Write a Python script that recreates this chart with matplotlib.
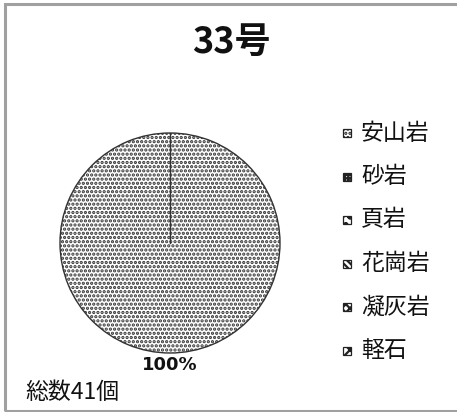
import matplotlib
matplotlib.use("Agg")
import numpy as np
import matplotlib.pyplot as plt
from matplotlib.patches import Rectangle

plt.rcParams['font.family'] = ['Noto Sans CJK JP', 'DejaVu Sans']
plt.rcParams['hatch.color'] = '#3a3a3a'
plt.rcParams['hatch.linewidth'] = 1.6

title = "33号"
categories = ["安山岩", "砂岩", "頁岩", "花崗岩", "凝灰岩", "軽石"]
values = [41, 0, 0, 0, 0, 0]
hatches = ["....", "+++++", "oo", "\\\\\\\\\\", "xxxx", "x"]
total_label = "総数41個"

W, H = 457, 412
fig = plt.figure(figsize=(W / 100, H / 100), dpi=100)
fig.patch.set_facecolor('white')

# outer frame (left, top, bottom visible)
fig.add_artist(Rectangle((5 / W, 1 - 410.5 / H), 500 / W, (410.5 - 4) / H,
                         transform=fig.transFigure, fill=False,
                         edgecolor='#a0a0a0', linewidth=2.2))

# pie axes: centre (170,243) px, radius 110 px
cx, cy, r = 170, 243, 110
ax = fig.add_axes([(cx - r) / W, 1 - (cy + r) / H, 2 * r / W, 2 * r / H])

nz = [(v, h) for v, h in zip(values, hatches) if v > 0]
wedges, texts, autotexts = ax.pie(
    [v for v, _ in nz], radius=1, startangle=90, counterclock=False,
    autopct=lambda p: f"{p:.0f}%", pctdistance=1.11,
    wedgeprops=dict(facecolor='white', edgecolor='#333333', linewidth=1.0),
    textprops=dict(fontsize=13.5, fontweight='bold', color='#111111'))
for w, (_, h) in zip(wedges, nz):
    w.set_hatch(h)
    # slice boundary from centre (full-circle wedge omits it)
    a = np.deg2rad(w.theta1)
    ax.plot([w.center[0], w.center[0] + w.r * np.cos(a)],
            [w.center[1], w.center[1] + w.r * np.sin(a)],
            color='#333333', linewidth=1.0)
for t in autotexts:
    t.set_family(['DejaVu Sans'])
    t.set_fontweight('heavy')
    t.set_fontsize(13)
    t.set_clip_on(False)
ax.set_xlim(-1, 1)
ax.set_ylim(-1, 1)
ax.set_aspect('equal')
ax.axis('off')

# title
fig.text(231 / W, 1 - 42 / H, title, ha='center', va='center',
         fontsize=26, fontweight='bold', color='#111111')

# legend
for i, (c, h) in enumerate(zip(categories, hatches)):
    y = 133 + 43.5 * i
    fig.add_artist(Rectangle((343 / W, 1 - (y + 4) / H), 8 / W, 8 / H,
                             transform=fig.transFigure, facecolor='white',
                             edgecolor='#222222', linewidth=0.9, hatch=h))
    fig.text(361 / W, 1 - y / H, c, ha='left', va='center',
             fontsize=16.5, color='#111111')

fig.text(25 / W, 1 - 392 / H, total_label, ha='left', va='center',
         fontsize=16.5, color='#111111')

fig.savefig("out.png", dpi=100, facecolor='white')
